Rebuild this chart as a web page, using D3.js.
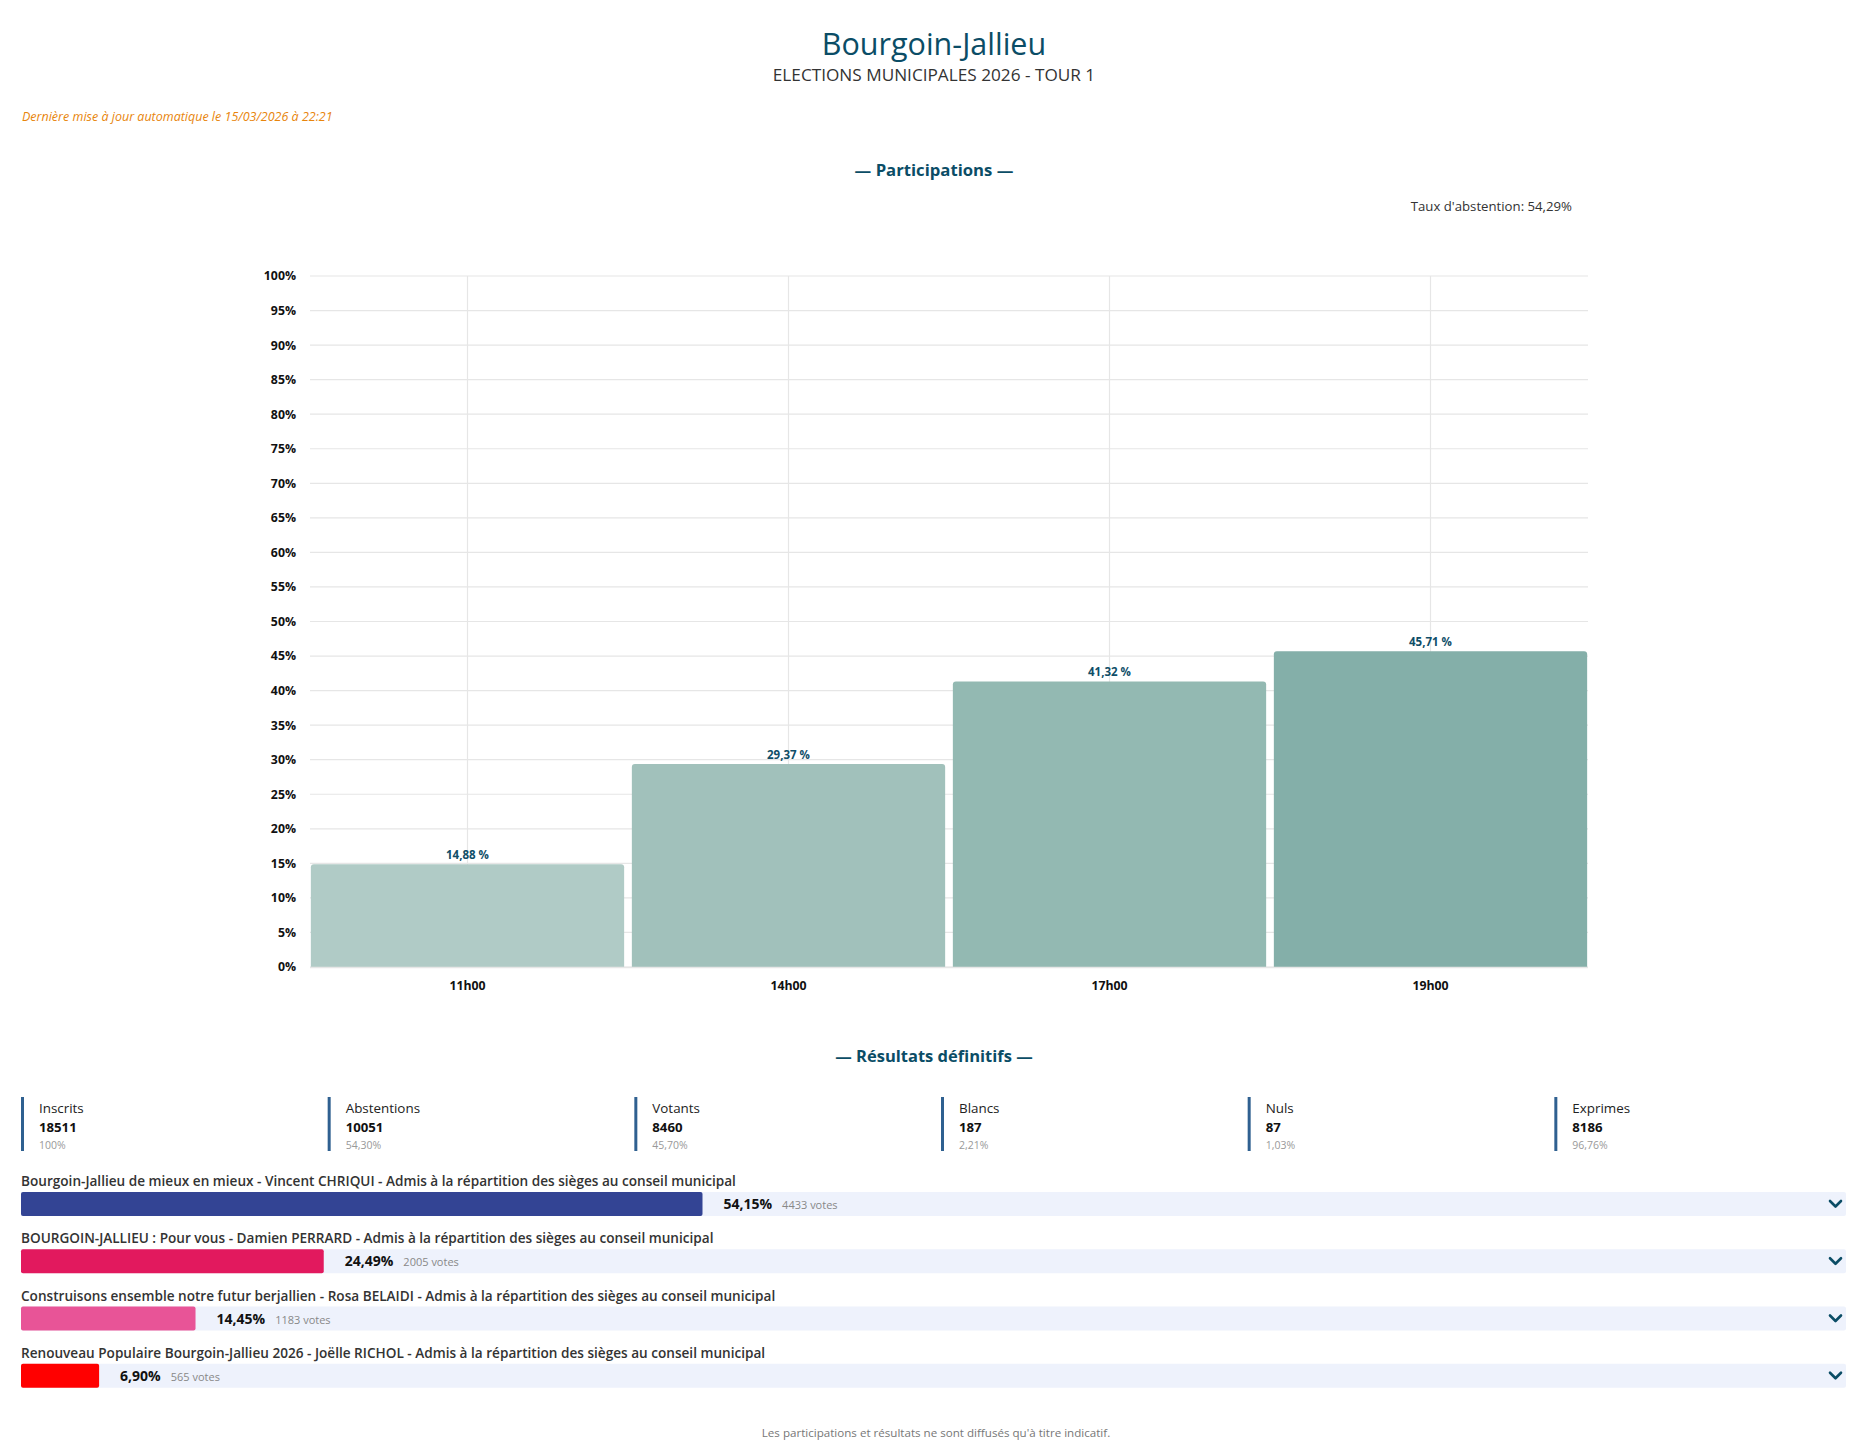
<!DOCTYPE html>
<html>
<head>
<meta charset="utf-8">
<script src="https://cdn.jsdelivr.net/npm/d3@7"></script>
<style>
  body { margin: 0; background: #ffffff; }
  text { font-family: "Open Sans", "Noto Sans", sans-serif; }
</style>
</head>
<body>
<div id="container"></div>
<script>
let width = 1868;
let height = 1448;

// participation data
let hours = ["11h00", "14h00", "17h00", "19h00"];
let participation = [14.88, 29.37, 41.32, 45.71];
let partLabels = ["14,88 %", "29,37 %", "41,32 %", "45,71 %"];
let yTicks = [0, 5, 10, 15, 20, 25, 30, 35, 40, 45, 50, 55, 60, 65, 70, 75, 80, 85, 90, 95, 100];

// summary figures
let statNames = ["Inscrits", "Abstentions", "Votants", "Blancs", "Nuls", "Exprimes"];
let statValues = [18511, 10051, 8460, 187, 87, 8186];
let statPcts = ["100%", "54,30%", "45,70%", "2,21%", "1,03%", "96,76%"];

// lists
let lists = [
  "Bourgoin-Jallieu de mieux en mieux - Vincent CHRIQUI - Admis à la répartition des sièges au conseil municipal",
  "BOURGOIN-JALLIEU : Pour vous - Damien PERRARD - Admis à la répartition des sièges au conseil municipal",
  "Construisons ensemble notre futur berjallien - Rosa BELAIDI - Admis à la répartition des sièges au conseil municipal",
  "Renouveau Populaire Bourgoin-Jallieu 2026 - Joëlle RICHOL - Admis à la répartition des sièges au conseil municipal"
];
let listPcts = [54.15, 24.49, 14.45, 6.90];
let listPctLabels = ["54,15%", "24,49%", "14,45%", "6,90%"];
let listVotes = [4433, 2005, 1183, 565];

let barColors = ["#b0cbc6", "#a1c1bb", "#93b9b2", "#84afa9"];
let listColors = ["#334494", "#e2195e", "#e85497", "#ff0000"];
let teal = "#0b4d66";

let svg = d3.select("#container")
  .append("svg")
  .attr("width", width)
  .attr("height", height);

// header
svg.append("text")
  .attr("x", width / 2).attr("y", 55)
  .attr("text-anchor", "middle")
  .attr("font-size", 30.5)
  .attr("fill", teal)
  .text("Bourgoin-Jallieu");

svg.append("text")
  .attr("x", width / 2).attr("y", 81)
  .attr("text-anchor", "middle")
  .attr("font-size", 17.2)
  .attr("fill", "#333")
  .text("ELECTIONS MUNICIPALES 2026 - TOUR 1");

svg.append("text")
  .attr("x", 22).attr("y", 121)
  .attr("font-size", 12.5)
  .attr("font-style", "italic")
  .attr("fill", "#e8850c")
  .text("Dernière mise à jour automatique le 15/03/2026 à 22:21");

svg.append("text")
  .attr("x", width / 2).attr("y", 176)
  .attr("text-anchor", "middle")
  .attr("font-size", 16.7)
  .attr("font-weight", 700)
  .attr("fill", teal)
  .text("— Participations —");

svg.append("text")
  .attr("x", 1572).attr("y", 211)
  .attr("text-anchor", "end")
  .attr("font-size", 13.2)
  .attr("fill", "#333")
  .text("Taux d'abstention: 54,29%");

// participation chart
let plot = { left: 310, right: 1588, top: 276, bottom: 967 };

let x = d3.scaleBand()
  .domain(hours)
  .range([307, 1591])
  .paddingInner(0.024)
  .paddingOuter(0.012);

let y = d3.scaleLinear()
  .domain([0, 100])
  .range([plot.bottom, plot.top]);

// horizontal grid
svg.append("g")
  .selectAll("line")
  .data(yTicks)
  .enter()
  .append("line")
  .attr("x1", plot.left).attr("x2", plot.right)
  .attr("y1", d => y(d)).attr("y2", d => y(d))
  .attr("stroke", "#e6e6e6")
  .attr("stroke-width", 1.2);

// vertical grid at category centres
svg.append("g")
  .selectAll("line")
  .data(hours)
  .enter()
  .append("line")
  .attr("x1", d => x(d) + x.bandwidth() / 2).attr("x2", d => x(d) + x.bandwidth() / 2)
  .attr("y1", plot.top).attr("y2", plot.bottom)
  .attr("stroke", "#e6e6e6")
  .attr("stroke-width", 1.2);

let yAxis = svg.append("g")
  .attr("transform", `translate(${plot.left - 4}, 0)`)
  .call(d3.axisLeft(y).tickValues(yTicks).tickSize(0).tickPadding(10).tickFormat(d => d + "%"));
yAxis.select(".domain").remove();
yAxis.selectAll("text")
  .attr("font-size", 12.3)
  .attr("font-weight", 700)
  .attr("fill", "#111")
  .style("font-family", "'Open Sans', sans-serif");

let r = 3;
svg.append("g")
  .selectAll("path")
  .data(participation)
  .enter()
  .append("path")
  .attr("d", (d, i) => {
    let x0 = x(hours[i]), x1 = x0 + x.bandwidth();
    let y0 = y(d), yb = y(0);
    return `M${x0},${yb} L${x0},${y0 + r} Q${x0},${y0} ${x0 + r},${y0} L${x1 - r},${y0} Q${x1},${y0} ${x1},${y0 + r} L${x1},${yb} Z`;
  })
  .attr("fill", (d, i) => barColors[i]);

// axis baseline
svg.append("line")
  .attr("x1", plot.left).attr("x2", plot.right)
  .attr("y1", plot.bottom + 0.5).attr("y2", plot.bottom + 0.5)
  .attr("stroke", "#e6e6e6")
  .attr("stroke-width", 1.5);

svg.append("g")
  .selectAll("text")
  .data(participation)
  .enter()
  .append("text")
  .attr("x", (d, i) => x(hours[i]) + x.bandwidth() / 2)
  .attr("y", d => y(d) - 5)
  .attr("text-anchor", "middle")
  .attr("font-size", 11.5)
  .attr("font-weight", 700)
  .attr("fill", "#0f4e68")
  .text((d, i) => partLabels[i]);

let xAxis = svg.append("g")
  .attr("transform", `translate(0, ${plot.bottom})`)
  .call(d3.axisBottom(x).tickSize(0).tickPadding(14));
xAxis.select(".domain").remove();
xAxis.selectAll("text")
  .attr("font-size", 12.3)
  .attr("font-weight", 700)
  .attr("fill", "#111")
  .style("font-family", "'Open Sans', sans-serif");

// final results
svg.append("text")
  .attr("x", width / 2).attr("y", 1062)
  .attr("text-anchor", "middle")
  .attr("font-size", 16.5)
  .attr("font-weight", 700)
  .attr("fill", teal)
  .text("— Résultats définitifs —");

let statX = d3.scaleBand()
  .domain(statNames)
  .range([21, 1861]);

let stat = svg.append("g")
  .selectAll("g")
  .data(statNames)
  .enter()
  .append("g")
  .attr("transform", d => `translate(${statX(d)}, 1097)`);

stat.append("rect")
  .attr("x", 0).attr("y", 0)
  .attr("width", 3).attr("height", 54)
  .attr("fill", "#2f6090");

stat.append("text")
  .attr("x", 18).attr("y", 16)
  .attr("font-size", 13.4)
  .attr("fill", "#222")
  .text(d => d);

stat.append("text")
  .attr("x", 18).attr("y", 35)
  .attr("font-size", 13.2)
  .attr("font-weight", 700)
  .attr("fill", "#111")
  .text((d, i) => statValues[i]);

stat.append("text")
  .attr("x", 18).attr("y", 52)
  .attr("font-size", 10.5)
  .attr("fill", "#999")
  .text((d, i) => statPcts[i]);

// list rows
let rowY = d3.scaleBand()
  .domain(lists)
  .range([1192, 1421]);

let w = d3.scaleLinear()
  .domain([0, 100])
  .range([-10, 1267]);

let barLeft = 21, barRight = 1846, barH = 24;

let row = svg.append("g")
  .selectAll("g")
  .data(lists)
  .enter()
  .append("g")
  .attr("transform", d => `translate(0, ${rowY(d)})`);

row.append("text")
  .attr("x", barLeft).attr("y", -6)
  .attr("font-size", 13.6)
  .attr("font-weight", 600)
  .attr("fill", "#333")
  .text(d => d);

row.append("rect")
  .attr("x", barLeft).attr("y", 0)
  .attr("width", barRight - barLeft).attr("height", barH)
  .attr("rx", 2)
  .attr("fill", "#eef2fc");

row.append("rect")
  .attr("x", barLeft).attr("y", 0)
  .attr("width", (d, i) => w(listPcts[i]))
  .attr("height", barH)
  .attr("rx", 2)
  .attr("fill", (d, i) => listColors[i]);

let pctText = row.append("text")
  .attr("x", (d, i) => barLeft + w(listPcts[i]) + 21)
  .attr("y", 17)
  .attr("font-size", 14)
  .attr("font-weight", 700)
  .attr("fill", "#111")
  .text((d, i) => listPctLabels[i]);

row.append("text")
  .attr("x", function (d, i) {
    let node = pctText.nodes()[i];
    return barLeft + w(listPcts[i]) + 21 + node.getComputedTextLength() + 10;
  })
  .attr("y", 17)
  .attr("font-size", 11)
  .attr("fill", "#888")
  .text((d, i) => listVotes[i] + " votes");

row.append("path")
  .attr("d", "M1830,9 L1835.5,14.5 L1841,9")
  .attr("fill", "none")
  .attr("stroke", teal)
  .attr("stroke-width", 2.6)
  .attr("stroke-linecap", "round")
  .attr("stroke-linejoin", "round");

svg.append("text")
  .attr("x", 936).attr("y", 1437)
  .attr("text-anchor", "middle")
  .attr("font-size", 11.6)
  .attr("fill", "#777")
  .text("Les participations et résultats ne sont diffusés qu'à titre indicatif.");
</script>
</body>
</html>
